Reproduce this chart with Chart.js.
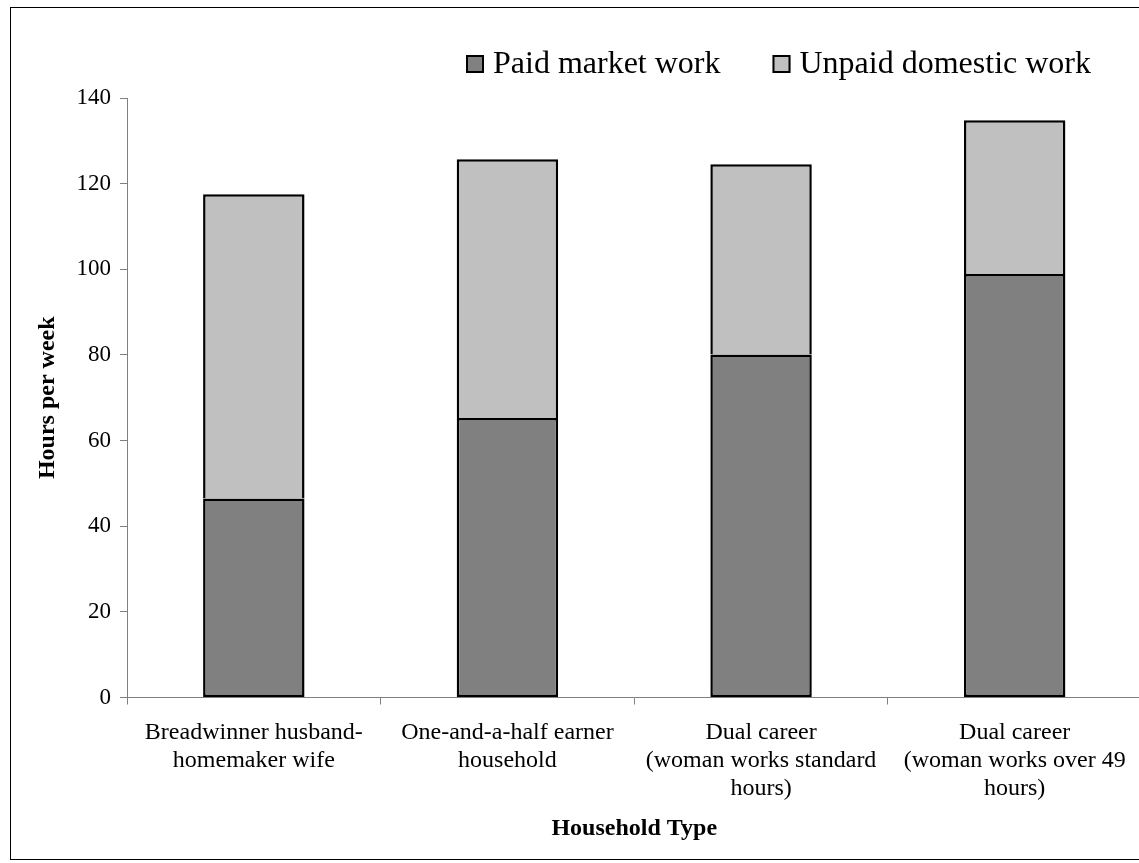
<!DOCTYPE html>
<html>
<head>
<meta charset="utf-8">
<script src="https://cdn.jsdelivr.net/npm/chart.js@4"></script>
<style>
    html, body { margin: 0; padding: 0; overflow: hidden; background: #fff; }
    #frame {
        position: absolute;
        left: 10px;
        top: 7px;
        width: 1160px;
        height: 851px;
        border: 1px solid #000;
    }
    #box { position: relative; width: 1160px; height: 851px; }
</style>
</head>
<body>
<div id="frame"><div id="box"><canvas id="hours"></canvas></div></div>
<script>
var categories = [
    ['Breadwinner husband-', 'homemaker wife'],
    ['One-and-a-half earner', 'household'],
    ['Dual career', '(woman works standard', 'hours)'],
    ['Dual career', '(woman works over 49', 'hours)']
];
var paidHours = [46.5, 65.3, 80.1, 98.9];
var unpaidHours = [71.0, 60.4, 44.4, 35.9];
var yTicks = [0, 20, 40, 60, 80, 100, 120, 140];

var serif = "'Liberation Serif', 'Times New Roman', serif";

// legend drawn by hand so the box/text gap matches the old excel look
var topLegend = {
    id: 'topLegend',
    afterDraw: function(chart) {
        var ctx = chart.ctx;
        var x = 455;
        ctx.save();
        ctx.font = '32px ' + serif;
        ctx.textBaseline = 'alphabetic';
        ctx.textAlign = 'left';
        chart.data.datasets.forEach(function(ds) {
            ctx.fillStyle = ds.backgroundColor;
            ctx.fillRect(x, 47, 18, 18);
            ctx.strokeStyle = '#000';
            ctx.lineWidth = 2;
            ctx.strokeRect(x + 1, 48, 16, 16);
            ctx.fillStyle = '#000';
            ctx.fillText(ds.label, x + 27, 65);
            x += 27 + ctx.measureText(ds.label).width + 52;
        });
        ctx.restore();
    }
};

var chart = new Chart(document.getElementById('hours'), {
    type: 'bar',
    data: {
        labels: categories,
        datasets: [{
            label: 'Paid market work',
            data: paidHours,
            backgroundColor: '#808080',
            borderColor: '#000',
            borderWidth: {top: 2.5, left: 2.5, right: 2.5, bottom: 2.5},
            borderSkipped: false
        }, {
            label: 'Unpaid domestic work',
            data: unpaidHours,
            backgroundColor: '#c0c0c0',
            borderColor: '#000',
            borderWidth: {top: 2.5, left: 2.5, right: 2.5, bottom: 0},
            borderSkipped: false
        }]
    },
    options: {
        responsive: true,
        maintainAspectRatio: false,
        animation: false,
        events: [],
        barPercentage: 0.4,
        categoryPercentage: 1,
        layout: {
            padding: {top: 90, right: 29.5, left: 0, bottom: 0}
        },
        plugins: {
            legend: {display: false},
            tooltip: {enabled: false}
        },
        scales: {
            x: {
                stacked: true,
                grid: {
                    offset: true,
                    drawOnChartArea: false,
                    drawTicks: true,
                    tickLength: 7,
                    color: '#808080'
                },
                border: {display: true, color: '#808080', width: 1},
                ticks: {
                    autoSkip: false,
                    maxRotation: 0,
                    minRotation: 0,
                    padding: 14,
                    color: '#000',
                    font: {family: serif, size: 24, lineHeight: 1.1667}
                },
                title: {
                    display: true,
                    text: 'Household Type',
                    color: '#000',
                    font: {family: serif, size: 24, weight: 'bold', lineHeight: 1.2},
                    padding: {top: 0, bottom: 16}
                },
                afterFit: function(scale) { scale.height = 161.5; }
            },
            y: {
                stacked: true,
                min: 0,
                max: 140,
                afterBuildTicks: function(scale) {
                    scale.ticks = yTicks.map(function(v) { return {value: v}; });
                },
                grid: {
                    drawOnChartArea: false,
                    drawTicks: true,
                    tickLength: 7,
                    color: '#808080'
                },
                border: {display: true, color: '#808080', width: 1},
                ticks: {
                    padding: 9,
                    color: '#000',
                    font: {family: serif, size: 23}
                },
                title: {
                    display: true,
                    text: 'Hours per week',
                    color: '#000',
                    font: {family: serif, size: 24, weight: 'bold', lineHeight: 1.2},
                    padding: {top: 22, bottom: 0}
                },
                afterFit: function(scale) { scale.width = 116; }
            }
        }
    },
    plugins: [topLegend]
});
</script>
</body>
</html>
